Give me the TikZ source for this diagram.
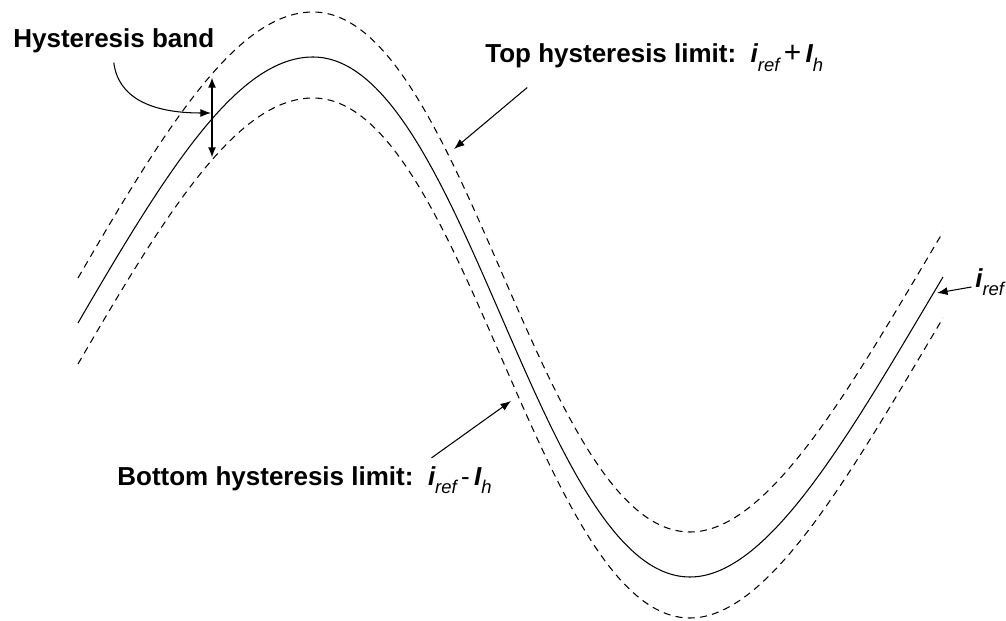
\documentclass[tikz,border=0pt]{standalone}
\usepackage{fontspec}
\setmainfont{Liberation Sans}
\usetikzlibrary{arrows.meta}

\newcommand{\lowsub}[1]{\raisebox{-0.6ex}{\fontsize{10.5pt}{10.5pt}\selectfont\mdseries\itshape #1}}
\newcommand{\iref}{{\itshape i}\lowsub{ref}}
\newcommand{\Ih}{{\itshape I}\lowsub{h}}

\begin{document}
\begin{tikzpicture}[x=0.02cm,y=-0.02cm,
    lbl/.style={font=\fontsize{14.8pt}{16pt}\selectfont\bfseries,anchor=base west,inner sep=0pt},
    pointer/.style={-{Latex[length=6pt,width=4.5pt]},line width=.6pt},
    limit/.style={dash pattern=on 4pt off 3pt}]
      \useasboundingbox (0,0) rectangle (1006,621);
      % reference current and the two hysteresis limits
      \foreach \dy/\sty in {0/solid,-45/limit,41/limit}{
        \draw[line width=.6pt,\sty,shift={(0,\dy)}]
          (78,323) .. controls (168,168) and (238,57) .. (313,57)
          .. controls (464,57) and (539,577) .. (690,577)
          .. controls (770,577) and (853,428) .. (943,277);
      }
      \coordinate (bandhi) at (212,77);
      \coordinate (bandlo) at (212,158);
      \coordinate (bandmid) at (211,113);
      \coordinate (tophit) at (454,149);
      \coordinate (bothit) at (511,401);
      \coordinate (refhit) at (937,293);
      \node[lbl] (band) at (13,48) {Hysteresis band};
      \node[lbl] (toplim) at (485,63) {Top hysteresis limit:\ \ \iref\,{\mdseries\fontsize{17pt}{17pt}\selectfont+}\,\Ih};
      \node[lbl] (botlim) at (117,485) {Bottom hysteresis limit:\ \ \iref\,{\mdseries -}\,\Ih};
      \node[lbl] (reflbl) at (975,287) {\iref};
      \draw[{Latex[length=6pt,width=4.5pt]}-{Latex[length=6pt,width=4.5pt]},line width=1.2pt]
        (bandhi) -- (bandlo);
      \draw[pointer] ([yshift=-5pt]band.south) .. controls (118,97) and (150,113) .. (bandmid);
      \draw[pointer] ([xshift=24pt,yshift=-9pt]toplim.south west) -- (tophit);
      \draw[pointer] ([xshift=179pt,yshift=4.5pt]botlim.north west) -- (bothit);
      \draw[pointer] ([xshift=-2pt]reflbl.base west) -- (refhit);
    \end{tikzpicture}
\end{document}
